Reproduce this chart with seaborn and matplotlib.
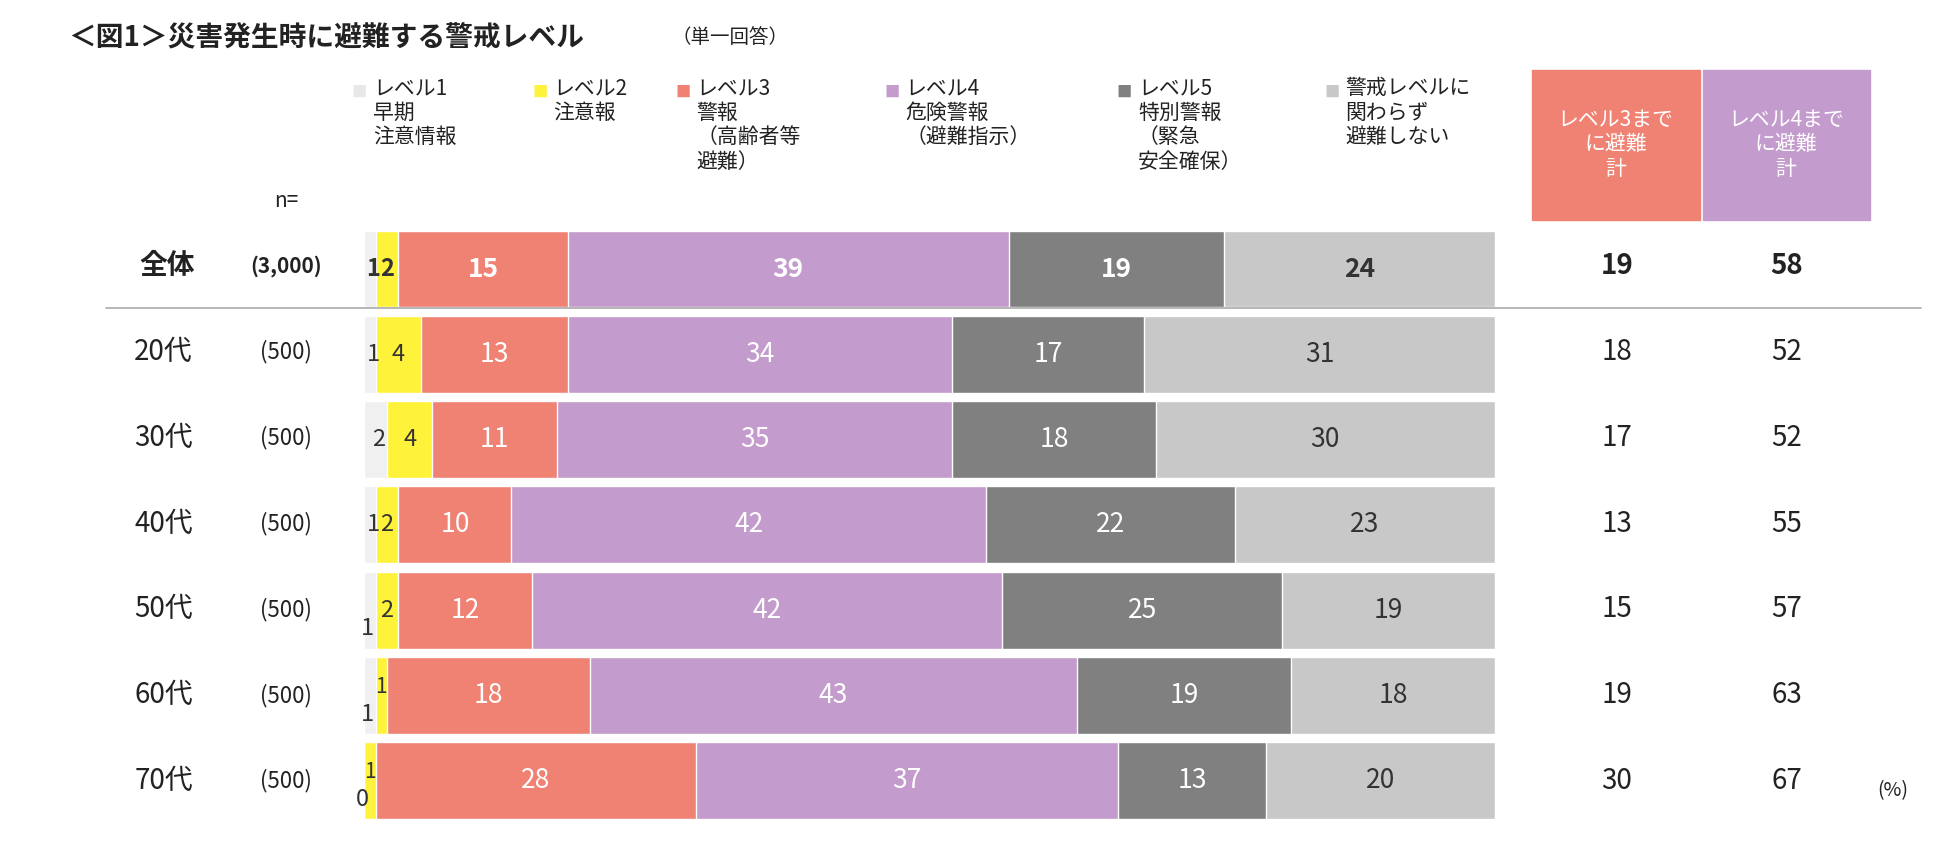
import matplotlib.pyplot as plt
import seaborn as sns
import pandas as pd
import numpy as np

rows = ['全体', '20代', '30代', '40代', '50代', '60代', '70代']
ns = ['(3,000)', '(500)', '(500)', '(500)', '(500)', '(500)', '(500)']
levels = ['レベル1\n早期\n注意情報', 'レベル2\n注意報', 'レベル3\n警報\n（高齢者等\n避難）',
          'レベル4\n危険警報\n（避難指示）', 'レベル5\n特別警報\n（緊急\n安全確保）', '警戒レベルに\n関わらず\n避難しない']
lv1 = [1, 1, 2, 1, 1, 1, 0]
lv2 = [2, 4, 4, 2, 2, 1, 1]
lv3 = [15, 13, 11, 10, 12, 18, 28]
lv4 = [39, 34, 35, 42, 42, 43, 37]
lv5 = [19, 17, 18, 22, 25, 19, 13]
none_ = [24, 31, 30, 23, 19, 18, 20]
upto3 = [19, 18, 17, 13, 15, 19, 30]
upto4 = [58, 52, 52, 55, 57, 63, 67]
colors = ['#f0f0f0', '#fff23a', '#f08274', '#c49bcd', '#808080', '#c8c8c8']

sns.set_theme(style='white')
plt.rcParams['font.family'] = ['Noto Sans CJK JP', 'DejaVu Sans']

W, H = 1568, 681
fig = plt.figure(figsize=(19.5, 8.47), dpi=100)
ax = fig.add_axes([293 / W, 1 - 662 / H, (1202 - 293) / W, (662 - 182) / H])

vals = np.array([lv1, lv2, lv3, lv4, lv5, none_], dtype=float)
tot = vals.sum(axis=0)
norm = vals / tot * 100
cum = norm.cumsum(axis=0)
for i in range(5, -1, -1):
    df = pd.DataFrame({'row': rows, 'v': cum[i]})
    sns.barplot(data=df, x='v', y='row', color=colors[i], saturation=1, width=0.9, ax=ax, orient='h')
ax.set_xlim(0, 100)
ax.set_ylim(6.5, -0.5)
ax.axis('off')

for r in range(7):
    bold = r == 0
    fw = 'bold' if bold else 'normal'
    for i in range(6):
        v = vals[i, r]
        left = cum[i, r] - norm[i, r]
        c = left + norm[i, r] / 2
        col = 'white' if i in (2, 3, 4) else '#333333'
        if i == 0:
            if r >= 4:
                ax.text(c - 0.2, r + 0.22, f'{int(v)}', ha='center', va='center', fontsize=17, color='#333333')
            else:
                ax.text(c + 0.3, r, f'{int(v)}', ha='center', va='center', fontsize=17, color='#333333', fontweight=fw)
            continue
        if i == 1 and r >= 5:
            ax.text(c, r - 0.1, f'{int(v)}', ha='center', va='center', fontsize=15, color='#333333')
            continue
        ax.text(c, r, f'{int(v)}', ha='center', va='center', fontsize=19 if i > 1 else 17,
                color=col, fontweight=fw)
    y = 1 - (214 + 69 * r) / H
    fig.text(112 / W if bold else 108 / W, y, rows[r], ha='left', va='center', fontsize=20, fontweight=fw, color='#222222')
    fig.text(230 / W, y, ns[r], ha='center', va='center', fontsize=15 if bold else 16, fontweight=fw, color='#222222')
    fig.text(1300 / W, y, str(upto3[r]), ha='center', va='center', fontsize=20, fontweight=fw, color='#222222')
    fig.text(1437 / W, y, str(upto4[r]), ha='center', va='center', fontsize=20, fontweight=fw, color='#222222')

fig.add_artist(plt.Line2D([85 / W, 1545 / W], [1 - 248 / H] * 2, color='#aaaaaa', lw=1.2))

fig.text(55 / W, 1 - 30 / H, '＜図1＞災害発生時に避難する警戒レベル', fontsize=20, fontweight='bold', va='center', color='#222222')
fig.text(540 / W, 1 - 30 / H, '（単一回答）', fontsize=14, va='center', color='#222222')
fig.text(230 / W, 1 - 162 / H, 'n=', fontsize=15, ha='center', va='center', color='#222222')

lx = [283, 428, 543, 711, 898, 1065]
for i in range(6):
    fig.text(lx[i] / W, 1 - 74 / H, '■', fontsize=11, color=colors[i] if i else '#e8e8e8', va='center')
    fig.text((lx[i] + 17) / W, 1 - 62 / H, levels[i], fontsize=15, va='top', color='#222222', linespacing=1.15)

for x0, c, t in [(1232, '#f08274', 'レベル3まで\nに避難\n計'), (1369, '#c49bcd', 'レベル4まで\nに避難\n計')]:
    fig.add_artist(plt.Rectangle((x0 / W, 1 - 177 / H), 135 / W, 121 / H, color=c, transform=fig.transFigure))
    fig.text((x0 + 67) / W, 1 - 116 / H, t, ha='center', va='center', fontsize=15, color='white', linespacing=1.15)

fig.text(1522 / W, 1 - 636 / H, '(%)', ha='center', va='center', fontsize=14, color='#222222')

fig.savefig('out.png', dpi=100)
